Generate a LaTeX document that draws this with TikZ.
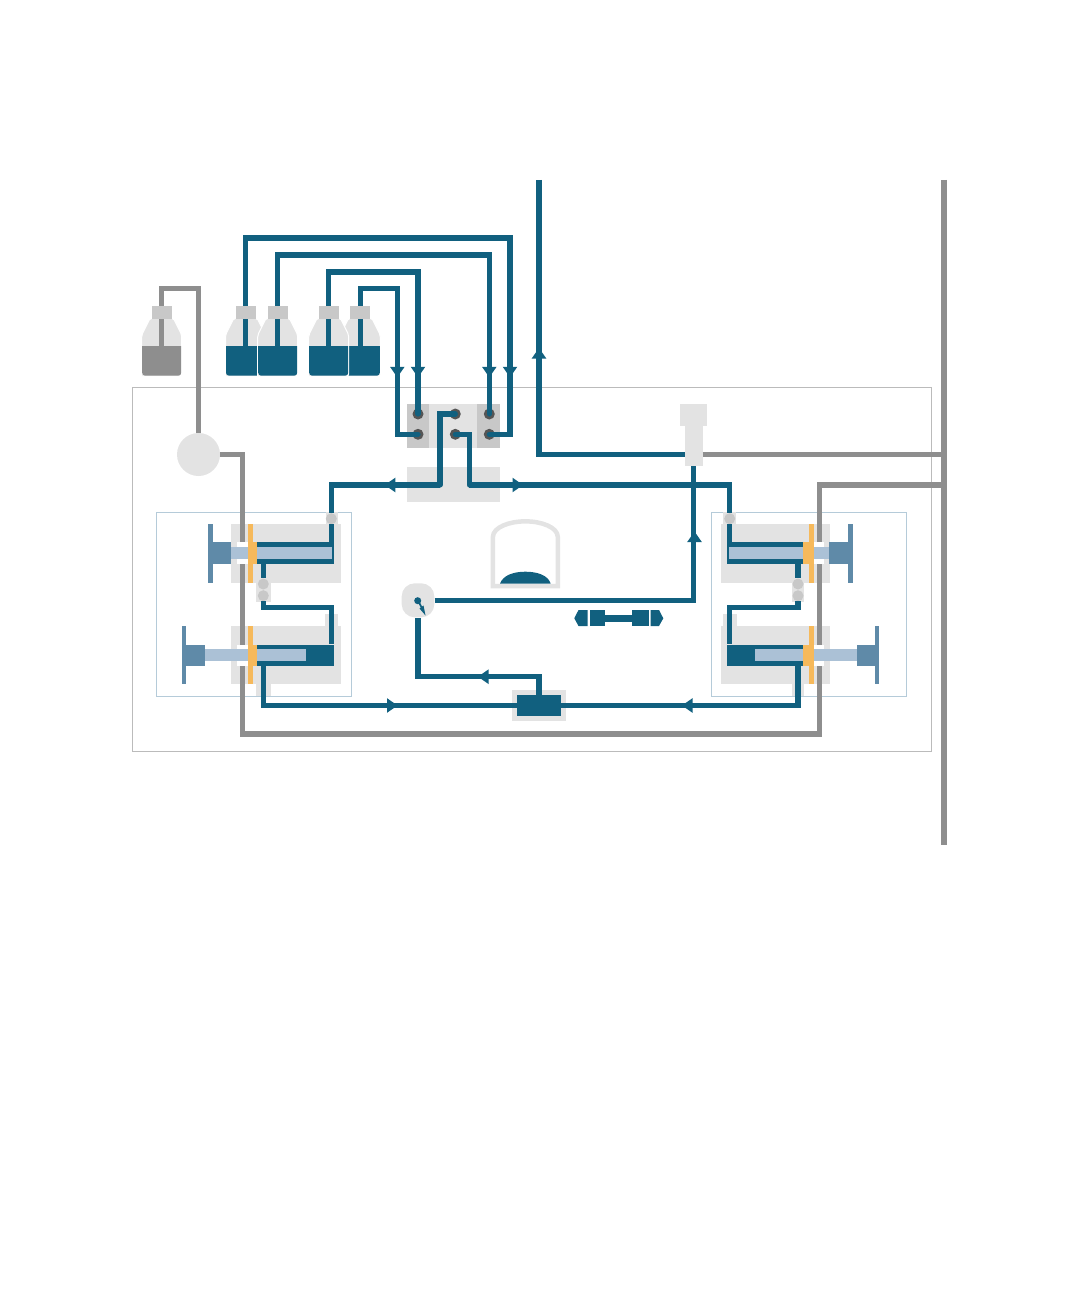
\documentclass[tikz,border=0pt]{standalone}
\usepackage{amssymb,amsmath,amsthm, tikz}
\definecolor{pipeblue}{HTML}{11607F}
\definecolor{pipegrey}{HTML}{8E8E8E}
\definecolor{lightgrey}{HTML}{E3E3E3}
\definecolor{midgrey}{HTML}{C8C8C8}
\definecolor{portgrey}{HTML}{555555}
\definecolor{rodblue}{HTML}{ABC1D6}
\definecolor{handleblue}{HTML}{5F8AA8}
\definecolor{sealorange}{HTML}{F6B95B}
\definecolor{framegrey}{HTML}{BBBBBB}
\definecolor{frameblue}{HTML}{B5CBD9}

\begin{document}
\begin{tikzpicture}[x = 1pt, y = -1pt]
    \tikzstyle{pipe} = [draw = pipeblue, line width = 5.2pt];
    \tikzstyle{gas} = [draw = pipegrey, line width = 5.2pt];
    \tikzstyle{port} = [circle, fill = portgrey, inner sep = 0, minimum size = 11pt];
    \tikzstyle{check} = [circle, fill = midgrey, inner sep = 0, minimum size = 11pt];
    \tikzstyle{cyl} = [rectangle, fill = pipeblue, inner sep = 0, minimum width = 76.4pt, minimum height = 21.4pt];
    \useasboundingbox (0,0) rectangle (1081,1297);
    % frames:
    \draw[framegrey, line width = 1pt] (132,387) rectangle (931,751);
    \draw[frameblue, line width = 1pt] (156.7,512) rectangle (351.3,696);
    \draw[frameblue, line width = 1pt] (711,512) rectangle (906.3,696);
    % bottles:
    \foreach \x/\c in {161.7/pipegrey, 245.5/pipeblue, 360.3/pipeblue, 277.7/pipeblue, 328.7/pipeblue}{
      \draw[white, fill = lightgrey, line width = 1pt] (\x-20,376) {[rounded corners = 2pt] -- (\x-20,335) -- (\x-11.5,318) -- (\x+11.5,318) -- (\x+20,335) -- (\x+20,376)} -- cycle;
      \fill[\c] (\x-19.5,346) {[rounded corners = 3pt] -- (\x-19.5,375.7) -- (\x+19.5,375.7)} -- (\x+19.5,346) -- cycle;
    }
    % grey blocks:
    \fill[lightgrey] (406.7,404) rectangle (500,447.7);
    \fill[midgrey] (406.7,404) rectangle (429,447.7);
    \fill[midgrey] (477.3,404) rectangle (500,447.7);
    \fill[lightgrey] (406.7,467.3) rectangle (500,502.3);
    \fill[lightgrey] (231,523.7) rectangle (341,582.7);
    \fill[lightgrey] (231,626) rectangle (341,684);
    \fill[lightgrey] (325.7,512) rectangle (337.7,523.7);
    \fill[lightgrey] (325,614) rectangle (337.7,626);
    \fill[lightgrey] (256.3,579) rectangle (270.7,601.7);
    \fill[lightgrey] (256.3,684) rectangle (270.7,696);
    \fill[lightgrey] (720.7,523.7) rectangle (830,582.7);
    \fill[lightgrey] (720.7,626) rectangle (830,684);
    \fill[lightgrey] (723.3,512) rectangle (735.7,523.7);
    \fill[lightgrey] (723.3,614) rectangle (736.7,626);
    \fill[lightgrey] (792.3,579) rectangle (804,601.7);
    \fill[lightgrey] (791.7,684) rectangle (804.3,696);
    \fill[lightgrey] (512,690.3) rectangle (566,720.7);
    % points:
    \node[port] (p1) at (418,414){};
    \node[port] (p2) at (418,434.3){};
    \node[port] (p3) at (455.3,414){};
    \node[port] (p4) at (455.3,434.3){};
    \node[port] (p5) at (489.3,414){};
    \node[port] (p6) at (489.3,434.3){};
    \node[circle, fill = lightgrey, inner sep = 0, minimum size = 43pt] (degas) at (198.5,454.5){};
    \node[cyl] (cyl1) at (295.5,553){};
    \node[cyl] (cyl2) at (295.5,655.3){};
    \node[cyl] (cyl3) at (765.3,553){};
    \node[cyl] (cyl4) at (765.3,655.3){};
    \node[check] (ckT1) at (331.3,518.7){};
    \node[check] (ckA1) at (263.3,584){};
    \node[check] (ckB1) at (263.3,595.7){};
    \node[check] (ckT3) at (729.7,518.7){};
    \node[check] (ckA3) at (798,584){};
    \node[check] (ckB3) at (798,595.7){};
    \node[rectangle, fill = pipeblue, inner sep = 0, minimum width = 44.3pt, minimum height = 21pt] (mix) at (539,705.5){};
    \node[rectangle, fill = lightgrey, rounded corners = 13pt, inner sep = 0, minimum width = 32.6pt, minimum height = 34pt] (vlv) at (418,600.3){};
    \node[rectangle, fill = lightgrey, inner sep = 0, minimum width = 26.7pt, minimum height = 22.3pt] (injtop) at (693.3,414.8){};
    \node[rectangle, fill = lightgrey, inner sep = 0, minimum width = 17.7pt, minimum height = 41pt] (inj) at (693.85,445.5){};
    \coordinate (bG) at (161.7,350);
    \coordinate (b1) at (245.5,350);
    \coordinate (b2) at (277.7,350);
    \coordinate (b3) at (328.7,350);
    \coordinate (b4) at (360.3,350);
    \coordinate (topG) at (198.5,288.7);
    \coordinate (top1) at (510,238);
    \coordinate (top2) at (489.3,255);
    \coordinate (top3) at (418,272);
    \coordinate (top4) at (397.3,288.7);
    \coordinate (midL) at (440,485);
    \coordinate (midR) at (469.3,485);
    \coordinate (out1) at (539,180);
    \coordinate (injL) at (685,454.5);
    \coordinate (injR) at (702.7,454.5);
    \coordinate (busA) at (944,454.5);
    \coordinate (busB) at (944,485);
    \coordinate (busTop) at (944,180);
    \coordinate (busEnd) at (944,845);
    \coordinate (gasL) at (242.7,734);
    \coordinate (gasR) at (819.3,734);
    \coordinate (gasB) at (819.3,485);
    \coordinate (linkL) at (331.3,607.7);
    \coordinate (linkR) at (729.3,607.7);
    \coordinate (out2) at (263.3,666);
    \coordinate (out4) at (798,666);
    \coordinate (toVlv) at (418,676.7);
    % grey lines:
    \draw[gas] (bG) |- (topG) -- (degas);
    \draw[gas] (degas.east) -| (gasL) -- (gasR) -- (gasB) -- (busB);
    \draw[gas] (injR) -- (busA);
    \draw[gas] (busTop) -- (busEnd);
    % blue lines:
    \draw[pipe, line cap = round] (b1) |- (top1) |- (p6.center);
    \draw[pipe, line cap = round] (b2) |- (top2) -- (p5.center);
    \draw[pipe, line cap = round] (b3) |- (top3) -- (p1.center);
    \draw[pipe, line cap = round] (b4) |- (top4) |- (p2.center);
    \draw[pipe, line cap = round] (p3.center) -| (midL);
    \draw[pipe] (midL) -| (ckT1);
    \draw[pipe, line cap = round] (p4.center) -| (midR);
    \draw[pipe] (midR) -| (ckT3);
    \draw[pipe] (ckT1) -- (ckT1 |- cyl1.north);
    \draw[pipe] (ckT3) -- (ckT3 |- cyl3.north);
    \draw[pipe] (ckA1 |- cyl1.south) -- (ckA1);
    \draw[pipe] (ckA3 |- cyl3.south) -- (ckA3);
    \draw[pipe] (ckB1) |- (linkL) -- (linkL |- cyl2.north);
    \draw[pipe] (ckB3) |- (linkR) -- (linkR |- cyl4.north);
    \draw[pipe] (out2) |- (mix.west);
    \draw[pipe] (out4) |- (mix.east);
    \draw[pipe] (mix.north) |- (toVlv) -- (vlv.south);
    \draw[pipe] (vlv.east) -| (inj.south);
    \draw[pipe] (out1) |- (injL);
    % arrow heads:
    \foreach \x/\y/\r in {397.3/371.8/270, 418/371.8/270, 489.3/371.8/270, 510/371.8/270, 539/353.5/90, 694.5/537/90, 390.3/485/180, 517.5/485/0, 483.5/676.7/180, 392/705.5/0, 687.5/705.5/180}{
      \fill[pipeblue, shift = {(\x,\y)}, rotate = \r] (-5,-7.3) -- (-5,7.3) -- (5.5,0) -- cycle;
    }
    % bottle caps:
    \foreach \x in {161.7, 245.5, 277.7, 328.7, 360.3}{
      \fill[midgrey] (\x-10,305.7) rectangle (\x+10,319.3);
    }
    % left pumps:
    \fill[white] (237,542.3) rectangle (248,563.7);
    \fill[white] (237,644.7) rectangle (248,666);
    \fill[handleblue] (208.3,523.7) rectangle (212.7,582.7);
    \fill[handleblue] (212.7,542.3) rectangle (231,563.7);
    \fill[handleblue] (181.7,626) rectangle (186,684);
    \fill[handleblue] (186,644.7) rectangle (205,666);
    \fill[rodblue] (231,547.3) rectangle (332.3,559);
    \fill[rodblue] (205,649.3) rectangle (306.3,660.7);
    \fill[sealorange] (248,523.7) rectangle (252.7,582.7);
    \fill[sealorange] (248,542.3) rectangle (257.3,563.7);
    \fill[sealorange] (248,626) rectangle (252.7,684);
    \fill[sealorange] (248,644.7) rectangle (257.3,666);
    % right pumps:
    \fill[white] (814,542.3) rectangle (824,563.7);
    \fill[white] (814,644.7) rectangle (824,666);
    \fill[handleblue] (848.3,523.7) rectangle (852.7,582.7);
    \fill[handleblue] (829.3,542.3) rectangle (848.3,563.7);
    \fill[handleblue] (875,626) rectangle (879.3,684);
    \fill[handleblue] (856.7,644.7) rectangle (875,666);
    \fill[rodblue] (729,547.3) rectangle (829.3,559);
    \fill[rodblue] (755,649.3) rectangle (856.7,660.7);
    \fill[sealorange] (809.3,523.7) rectangle (814,582.7);
    \fill[sealorange] (803.3,542.3) rectangle (814,563.7);
    \fill[sealorange] (809.3,626) rectangle (814,684);
    \fill[sealorange] (803.3,644.7) rectangle (814,666);
    % valve needle:
    \fill[pipeblue] (417.7,600.7) circle (3.5pt);
    \fill[pipeblue] (417.2,601.5) -- (419.2,600.5) -- (422,606.5) -- (423.5,605.5) -- (425.5,615.5) -- (419.5,608.5) -- (420.8,607.5) -- cycle;
    % vessel:
    \draw[lightgrey, line width = 4.5pt] (492.9,586) -- (492.9,537) .. controls (493,527) and (510,521.3) .. (525.3,521.3) .. controls (541,521.3) and (557.7,527) .. (557.8,537) -- (557.8,586) -- cycle;
    \fill[pipeblue] (500,583.7) .. controls (503,575) and (514,571.7) .. (525.3,571.7) .. controls (537,571.7) and (548,575) .. (550.7,583.7) -- cycle;
    % column:
    \fill[pipeblue] (574.3,618.3) -- (578.5,610) -- (587.5,610) -- (587.5,626) -- (578.5,626) -- cycle;
    \fill[pipeblue] (590,610) rectangle (605.3,626);
    \fill[pipeblue] (605.3,615) rectangle (631.7,621.5);
    \fill[pipeblue] (631.7,610) rectangle (649,626);
    \fill[pipeblue] (663.3,618.3) -- (659,610) -- (650.7,610) -- (650.7,626) -- (659,626) -- cycle;
\end{tikzpicture}
\end{document}
